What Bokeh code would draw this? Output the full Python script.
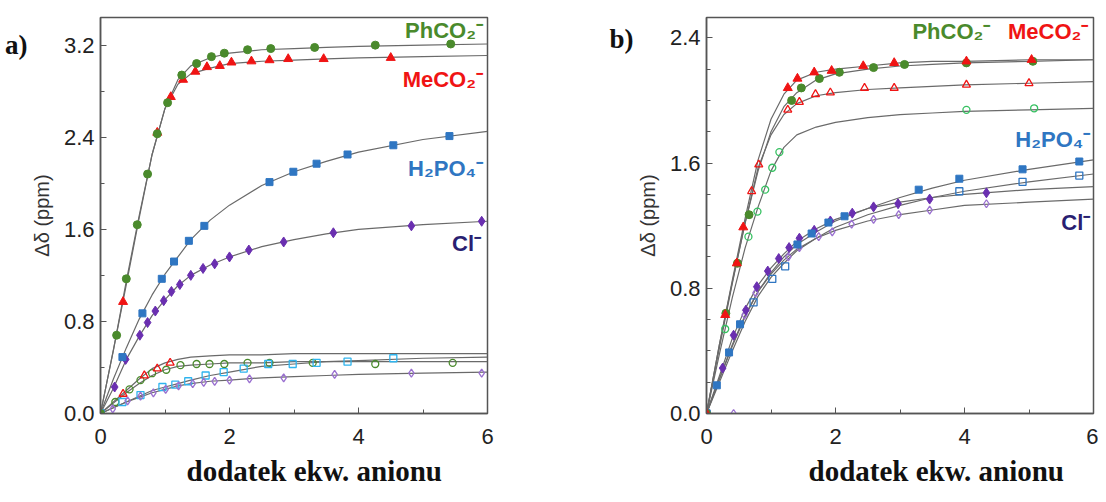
from bokeh.plotting import figure
from bokeh.layouts import row
from bokeh.models import Range1d, FixedTicker, NumeralTickFormatter, Label, Title, LinearAxis
from bokeh.embed import file_html
from bokeh.resources import INLINE

# ---------------- data ----------------
FIT_X = [0, 0.2, 0.4, 0.6, 0.8, 1.0, 1.2, 1.4, 1.7, 2.0, 2.5, 3.0, 3.5, 4.0, 5.0, 6.0]

# panel a) - filled symbols
a_phco2_x = [0, 0.25, 0.40, 0.57, 0.73, 0.88, 1.04, 1.26, 1.49, 1.72, 1.92, 2.28, 2.64, 3.32, 4.26, 5.43]
a_phco2_y = [0, 0.68, 1.17, 1.64, 2.08, 2.43, 2.70, 2.94, 3.04, 3.10, 3.13, 3.16, 3.17, 3.18, 3.20, 3.21]
a_phco2_fit = [0, 0.55, 1.15, 1.72, 2.25, 2.65, 2.90, 3.02, 3.09, 3.13, 3.16, 3.17, 3.18, 3.19, 3.20, 3.21]

a_meco2_x = [0, 0.35, 0.88, 1.09, 1.28, 1.47, 1.65, 1.85, 2.03, 2.34, 2.62, 2.91, 3.46, 4.50]
a_meco2_y = [0, 0.97, 2.44, 2.75, 2.90, 2.97, 3.01, 3.02, 3.05, 3.06, 3.07, 3.08, 3.08, 3.09]
a_meco2_fit = [0, 0.55, 1.12, 1.70, 2.25, 2.65, 2.86, 2.95, 3.00, 3.04, 3.06, 3.07, 3.08, 3.09, 3.10, 3.11]

a_h2po4_x = [0, 0.34, 0.65, 0.95, 1.14, 1.37, 1.61, 2.62, 2.99, 3.35, 3.83, 4.54, 5.41]
a_h2po4_y = [0, 0.49, 0.87, 1.17, 1.32, 1.50, 1.63, 2.01, 2.10, 2.17, 2.25, 2.33, 2.41]
a_h2po4_fit = [0, 0.30, 0.57, 0.82, 1.03, 1.21, 1.36, 1.51, 1.68, 1.81, 1.98, 2.10, 2.19, 2.27, 2.38, 2.45]

a_cl_x = [0, 0.22, 0.39, 0.61, 0.73, 0.85, 0.98, 1.10, 1.23, 1.40, 1.59, 1.77, 2.0, 2.30, 2.84, 3.61, 4.82, 5.91]
a_cl_y = [0, 0.23, 0.47, 0.68, 0.79, 0.89, 0.98, 1.06, 1.12, 1.20, 1.26, 1.30, 1.36, 1.42, 1.49, 1.57, 1.63, 1.67]
a_cl_fit = [0, 0.22, 0.47, 0.67, 0.85, 0.99, 1.11, 1.20, 1.29, 1.36, 1.45, 1.51, 1.56, 1.60, 1.64, 1.67]

# panel a) - open symbols
a_meco2o_x = [0, 0.35, 0.68, 0.88, 1.08]
a_meco2o_y = [0, 0.17, 0.33, 0.39, 0.44]
a_meco2o_fit = [0, 0.10, 0.20, 0.30, 0.39, 0.44, 0.47, 0.49, 0.50, 0.51, 0.51, 0.52, 0.52, 0.52, 0.52, 0.52]

a_phco2o_x = [0, 0.23, 0.45, 0.62, 0.80, 1.02, 1.24, 1.49, 1.69, 1.92, 2.28, 2.62, 3.29, 4.26, 5.46]
a_phco2o_y = [0, 0.10, 0.21, 0.29, 0.35, 0.38, 0.42, 0.43, 0.43, 0.43, 0.44, 0.44, 0.44, 0.43, 0.44]
a_phco2o_fit = [0, 0.09, 0.18, 0.26, 0.33, 0.38, 0.41, 0.42, 0.43, 0.44, 0.44, 0.45, 0.45, 0.45, 0.45, 0.45]

a_h2po4o_x = [0, 0.34, 0.62, 0.96, 1.16, 1.36, 1.63, 1.91, 2.22, 2.60, 2.98, 3.35, 3.83, 4.54]
a_h2po4o_y = [0, 0.10, 0.16, 0.23, 0.25, 0.28, 0.33, 0.36, 0.39, 0.43, 0.43, 0.44, 0.45, 0.48]
a_h2po4o_fit = [0, 0.05, 0.10, 0.15, 0.20, 0.23, 0.26, 0.29, 0.33, 0.36, 0.41, 0.43, 0.45, 0.46, 0.48, 0.49]

a_clo_x = [0, 0.19, 0.42, 0.62, 0.82, 1.01, 1.21, 1.43, 1.60, 1.77, 2.0, 2.31, 2.84, 3.63, 4.82, 5.91]
a_clo_y = [0, 0.04, 0.11, 0.15, 0.18, 0.21, 0.24, 0.26, 0.27, 0.28, 0.29, 0.30, 0.31, 0.34, 0.35, 0.35]
a_clo_fit = [0, 0.05, 0.10, 0.14, 0.18, 0.21, 0.24, 0.26, 0.28, 0.29, 0.31, 0.32, 0.33, 0.34, 0.35, 0.36]

# panel b) - filled symbols
b_meco2_x = [0, 0.29, 0.47, 0.57, 1.26, 1.41, 1.67, 1.94, 2.43, 2.91, 4.03, 5.04]
b_meco2_y = [0, 0.63, 0.96, 1.19, 2.08, 2.14, 2.18, 2.19, 2.22, 2.24, 2.25, 2.26]
b_meco2_fit = [0, 0.44, 0.85, 1.25, 1.62, 1.88, 2.04, 2.13, 2.18, 2.20, 2.22, 2.24, 2.25, 2.25, 2.26, 2.26]

b_phco2_x = [0, 0.30, 0.48, 0.66, 1.32, 1.47, 1.75, 2.06, 2.59, 3.07, 4.03, 5.06]
b_phco2_y = [0, 0.64, 0.96, 1.27, 2.00, 2.08, 2.14, 2.18, 2.21, 2.23, 2.24, 2.25]
b_phco2_fit = [0, 0.44, 0.84, 1.22, 1.55, 1.80, 1.96, 2.05, 2.13, 2.17, 2.20, 2.22, 2.23, 2.24, 2.25, 2.26]

b_h2po4_x = [0, 0.16, 0.35, 0.52, 1.41, 1.63, 1.89, 2.14, 3.29, 3.92, 4.90, 5.78]
b_h2po4_y = [0, 0.18, 0.39, 0.57, 1.08, 1.15, 1.22, 1.26, 1.43, 1.50, 1.56, 1.61]
b_h2po4_fit = [0, 0.22, 0.43, 0.62, 0.78, 0.90, 1.00, 1.08, 1.16, 1.23, 1.31, 1.38, 1.44, 1.49, 1.56, 1.62]

b_cl_x = [0, 0.25, 0.42, 0.61, 0.78, 0.95, 1.12, 1.28, 1.44, 1.67, 1.92, 2.26, 2.59, 2.97, 3.46, 4.34]
b_cl_y = [0, 0.29, 0.50, 0.66, 0.81, 0.91, 0.99, 1.06, 1.12, 1.17, 1.23, 1.28, 1.32, 1.34, 1.37, 1.41]
b_cl_fit = [0, 0.24, 0.48, 0.67, 0.82, 0.93, 1.02, 1.10, 1.18, 1.24, 1.31, 1.35, 1.38, 1.40, 1.43, 1.45]

# panel b) - open symbols
b_meco2o_x = [0, 0.70, 0.81, 1.26, 1.44, 1.69, 1.92, 2.45, 2.91, 4.03, 5.0]
b_meco2o_y = [0, 1.42, 1.59, 1.94, 1.99, 2.04, 2.05, 2.08, 2.08, 2.10, 2.11]
b_meco2o_fit = [0, 0.42, 0.83, 1.22, 1.57, 1.78, 1.91, 1.98, 2.03, 2.05, 2.07, 2.08, 2.09, 2.10, 2.11, 2.12]

b_phco2o_x = [0, 0.29, 0.65, 0.79, 0.91, 1.02, 1.13, 4.03, 5.08]
b_phco2o_y = [0, 0.54, 1.13, 1.29, 1.43, 1.57, 1.67, 1.94, 1.95]
b_phco2o_fit = [0, 0.38, 0.74, 1.06, 1.32, 1.55, 1.70, 1.78, 1.83, 1.86, 1.89, 1.91, 1.92, 1.93, 1.94, 1.95]

b_h2po4o_x = [0, 0.73, 1.02, 1.22, 3.92, 4.90, 5.78]
b_h2po4o_y = [0, 0.71, 0.86, 0.94, 1.42, 1.48, 1.52]
b_h2po4o_fit = [0, 0.20, 0.40, 0.59, 0.75, 0.87, 0.96, 1.04, 1.12, 1.19, 1.27, 1.33, 1.38, 1.42, 1.48, 1.53]

b_clo_x = [0, 0.42, 0.59, 0.76, 1.27, 1.44, 1.74, 1.95, 2.25, 2.59, 2.98, 3.46, 4.34]
b_clo_y = [0, 0.0, 0.63, 0.77, 1.00, 1.06, 1.13, 1.16, 1.21, 1.24, 1.27, 1.30, 1.34]
b_clo_fit = [0, 0.22, 0.44, 0.63, 0.78, 0.89, 0.98, 1.05, 1.12, 1.17, 1.23, 1.27, 1.30, 1.33, 1.35, 1.37]

X_TICKS = [0, 2, 4, 6]
X_MINOR = [1, 3, 5]
A_Y_TICKS = [0.0, 0.8, 1.6, 2.4, 3.2]
A_Y_MINOR = [0.4, 1.2, 2.0, 2.8]
B_Y_TICKS = [0.0, 0.8, 1.6, 2.4]
B_Y_MINOR = [0.2, 0.4, 0.6, 1.0, 1.2, 1.4, 1.8, 2.0, 2.2]

# panel tag positions (value on the y axis where the tag sits)
A_TAG_Y = 3.2
B_TAG_Y = 2.39

# ---------------- style ----------------
GREEN = "#4a8a2c"
GREEN_LIGHT = "#35c060"
RED = "#f01414"
BLUE = "#2f76c2"
CYAN = "#2fb4ee"
PURPLE = "#6a2fb0"
PURPLE_LIGHT = "#9a70d0"
NAVY = "#2a1f72"
FIT = "#6a6a6a"
AXIS = "#555555"
H = 500


def make_panel(ymax, yticks, yminor, series, labels, tag, tag_y, left_border, right_border, xlab_offset):
    p = figure(width=left_border + 387 + right_border, height=H,
               x_range=Range1d(0, 6), y_range=Range1d(0, ymax),
               output_backend="svg", toolbar_location=None,
               min_border_left=left_border, min_border_right=right_border,
               min_border_top=17, min_border_bottom=H - 17 - 396)
    p.grid.visible = False
    p.outline_line_color = AXIS
    p.outline_line_width = 1.5
    p.background_fill_color = "white"
    p.border_fill_color = "white"

    p.xaxis.ticker = FixedTicker(ticks=X_TICKS, minor_ticks=X_MINOR)
    p.yaxis.ticker = FixedTicker(ticks=yticks, minor_ticks=yminor)
    p.yaxis.formatter = NumeralTickFormatter(format="0.0")
    for ax in (p.xaxis[0], p.yaxis[0]):
        ax.axis_line_color = AXIS
        ax.axis_line_width = 1.5
        ax.major_tick_line_color = AXIS
        ax.minor_tick_line_color = AXIS
        ax.major_tick_in = 6
        ax.major_tick_out = 0
        ax.minor_tick_in = 4
        ax.minor_tick_out = 0
        ax.major_label_text_font = "Liberation Sans"
        ax.major_label_text_font_size = "22px"
        ax.major_label_text_color = "#222222"
    p.xaxis.major_label_standoff = 15
    p.yaxis.major_label_standoff = 6
    p.yaxis.axis_label = "Δδ (ppm)"
    p.yaxis.axis_label_text_font = "Liberation Sans"
    p.yaxis.axis_label_text_font_style = "normal"
    p.yaxis.axis_label_text_font_size = "20px"
    p.yaxis.axis_label_text_color = "#333333"
    p.yaxis.axis_label_standoff = 8

    # panel tag "a)" / "b)" as the single label of an outer, line-less axis
    tag_axis = LinearAxis(ticker=FixedTicker(ticks=[tag_y], minor_ticks=[]),
                          major_label_overrides={tag_y: tag},
                          axis_line_color=None, major_tick_line_color=None,
                          minor_tick_line_color=None, major_tick_in=0, major_tick_out=0,
                          minor_tick_in=0, minor_tick_out=0, major_label_standoff=0,
                          major_label_text_font="Liberation Serif",
                          major_label_text_font_style="bold",
                          major_label_text_font_size="27px",
                          major_label_text_color="#111111")
    p.add_layout(tag_axis, "left")

    for xs, ys, fit, marker, color, filled, size in series:
        p.line(FIT_X, fit, line_color=FIT, line_width=1.2)
    for xs, ys, fit, marker, color, filled, size in series:
        if filled:
            p.scatter(xs, ys, marker=marker, size=size, fill_color=color, line_color=color)
        else:
            p.scatter(xs, ys, marker=marker, size=size, fill_color=None,
                      line_color=color, line_width=1.3)

    for text, x, y, color in labels:
        p.add_layout(Label(x=x, y=y, text=text, text_color=color,
                           text_font="Liberation Sans", text_font_style="bold",
                           text_font_size="22px", text_align="right",
                           text_baseline="middle"))

    p.add_layout(Title(text="dodatek ekw. anionu", align="left", offset=xlab_offset,
                       standoff=12,
                       text_font="Liberation Serif", text_font_style="bold",
                       text_font_size="29px", text_color="#111111"), "below")
    return p


series_a = [
    (a_phco2o_x, a_phco2o_y, a_phco2o_fit, "circle", GREEN, False, 7),
    (a_meco2o_x, a_meco2o_y, a_meco2o_fit, "triangle", RED, False, 8),
    (a_h2po4o_x, a_h2po4o_y, a_h2po4o_fit, "square", CYAN, False, 7),
    (a_clo_x, a_clo_y, a_clo_fit, "diamond", PURPLE_LIGHT, False, 8),
    (a_cl_x, a_cl_y, a_cl_fit, "diamond", PURPLE, True, 10),
    (a_h2po4_x, a_h2po4_y, a_h2po4_fit, "square", BLUE, True, 7),
    (a_meco2_x, a_meco2_y, a_meco2_fit, "triangle", RED, True, 9),
    (a_phco2_x, a_phco2_y, a_phco2_fit, "circle", GREEN, True, 8),
]
labels_a = [
    ("PhCO₂⁻", 5.93, 3.33, GREEN),
    ("MeCO₂⁻", 5.93, 2.90, RED),
    ("H₂PO₄⁻", 5.93, 2.13, BLUE),
    ("Cl⁻", 5.90, 1.48, NAVY),
]

series_b = [
    (b_phco2o_x, b_phco2o_y, b_phco2o_fit, "circle", GREEN_LIGHT, False, 7),
    (b_meco2o_x, b_meco2o_y, b_meco2o_fit, "triangle", RED, False, 8),
    (b_h2po4o_x, b_h2po4o_y, b_h2po4o_fit, "square", BLUE, False, 7),
    (b_clo_x, b_clo_y, b_clo_fit, "diamond", PURPLE_LIGHT, False, 8),
    (b_cl_x, b_cl_y, b_cl_fit, "diamond", PURPLE, True, 10),
    (b_h2po4_x, b_h2po4_y, b_h2po4_fit, "square", BLUE, True, 7),
    (b_phco2_x, b_phco2_y, b_phco2_fit, "circle", GREEN, True, 8),
    (b_meco2_x, b_meco2_y, b_meco2_fit, "triangle", RED, True, 9),
]
labels_b = [
    ("PhCO₂⁻", 4.40, 2.44, GREEN),
    ("MeCO₂⁻", 5.92, 2.44, RED),
    ("H₂PO₄⁻", 5.95, 1.75, BLUE),
    ("Cl⁻", 5.95, 1.22, NAVY),
]

pa = make_panel(3.44, A_Y_TICKS, A_Y_MINOR, series_a, labels_a, "a)", A_TAG_Y, 100, 119, 86)
pb = make_panel(2.53, B_Y_TICKS, B_Y_MINOR, series_b, labels_b, "b)", B_TAG_Y, 100, 5, 102)

layout = row(pa, pb)
open("out.html", "w").write(file_html(layout, INLINE))
